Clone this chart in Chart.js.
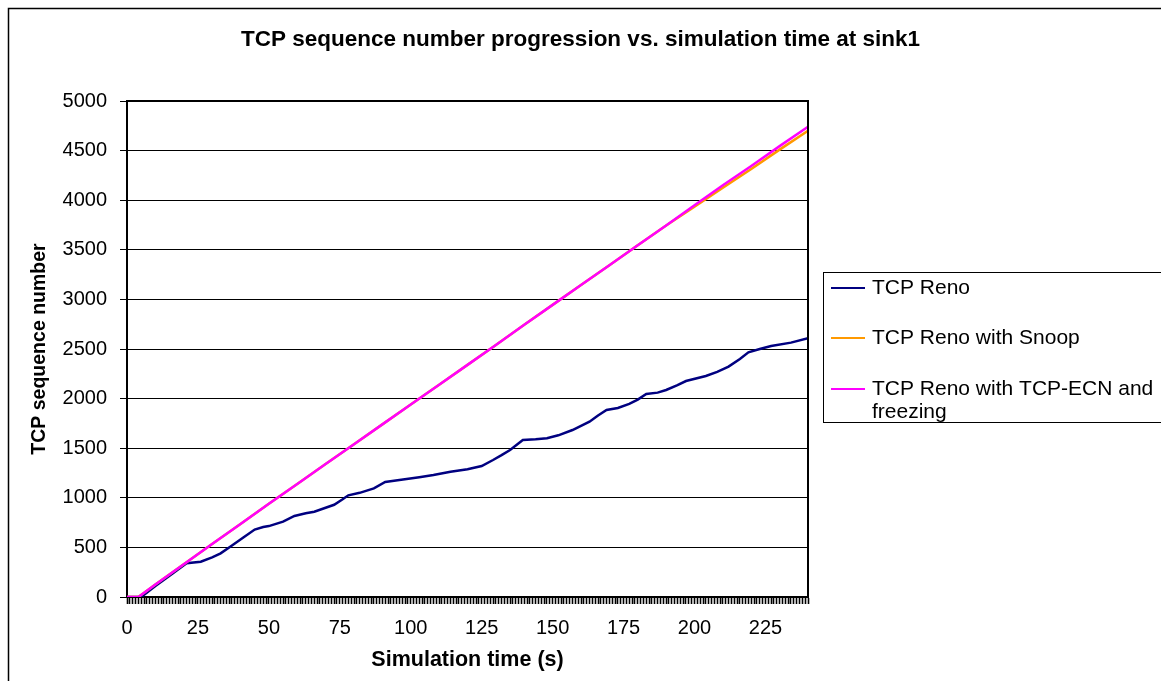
<!DOCTYPE html>
<html>
<head>
<meta charset="utf-8">
<title>TCP sequence number progression</title>
<script src="https://cdn.jsdelivr.net/npm/chart.js@4.4.1/dist/chart.umd.min.js"></script>
<style>
  html, body { margin:0; padding:0; background:#fff; }
  #wrap { width:1161px; height:681px; position:relative; }
</style>
</head>
<body>
<div id="wrap"><canvas id="chart-seq"></canvas></div>
<script>
/* ============ DADOS ============ */
var tempoReno = [0, 5, 10, 15, 21, 26, 30, 33, 37, 41, 45, 48, 50, 55, 59, 63, 66, 70, 73, 76, 78, 82, 87,
  91, 96, 103, 108, 114, 120, 125, 129, 132, 135, 139.5, 144, 148, 152, 157, 163, 166, 169, 173, 177, 180,
  183, 187, 190, 194, 197, 204, 208, 212, 216, 219, 223, 227, 234, 240];
var seqReno = [0, 0, 110, 215, 340, 356, 400, 440, 520, 600, 680, 705, 715, 760, 817, 845, 860, 900, 930,
  985, 1025, 1050, 1095, 1160, 1179, 1207, 1230, 1262, 1287, 1320, 1381, 1430, 1482, 1583, 1590, 1600, 1630,
  1683, 1767, 1830, 1885, 1905, 1946, 1990, 2046, 2060, 2087, 2135, 2177, 2228, 2270, 2322, 2400, 2467,
  2500, 2530, 2564, 2608];

var tempoLinha = [0, 4, 10, 20, 30, 40, 50, 60, 70, 80, 90, 100, 110, 120, 130, 140, 150, 160, 170, 180,
  190, 200, 210, 220, 230, 240];
var seqSnoop = [0, 0, 125, 330, 535, 735, 940, 1140, 1340, 1540, 1740, 1940, 2140, 2340, 2540, 2745, 2945,
  3145, 3345, 3545, 3745, 3935, 4125, 4315, 4510, 4700];
var seqEcn = [0, 0, 125, 330, 535, 735, 940, 1140, 1340, 1540, 1740, 1940, 2140, 2340, 2540, 2745, 2945,
  3145, 3345, 3545, 3745, 3950, 4150, 4345, 4545, 4740];

var series = ['TCP Reno', 'TCP Reno with Snoop', 'TCP Reno with TCP-ECN and freezing'];
var cores = ['#000080', '#FF9900', '#FF00FF'];
var yTicks = [0, 500, 1000, 1500, 2000, 2500, 3000, 3500, 4000, 4500, 5000];
var xLabelStep = 25;
var xMax = 240;

var FONTE = '"Liberation Sans", Arial, sans-serif';

function pontos(xs, ys) {
  return xs.map(function(x, i) { return { x: x, y: ys[i] }; });
}

/* ============ LEGENDA E MOLDURA ============ */
var molduraPlugin = {
  id: 'moldura',
  afterDraw: function(chart) {
    var ctx = chart.ctx, a = chart.chartArea;
    ctx.save();

    // moldura externa
    ctx.strokeStyle = '#000';
    ctx.lineWidth = 1.5;
    ctx.beginPath();
    ctx.moveTo(8.5, 690); ctx.lineTo(8.5, 8.5); ctx.lineTo(1170, 8.5);
    ctx.stroke();

    // borda da área do gráfico (topo e direita)
    ctx.lineWidth = 2;
    ctx.beginPath();
    ctx.moveTo(a.left, a.top); ctx.lineTo(a.right, a.top); ctx.lineTo(a.right, a.bottom);
    ctx.stroke();

    // legenda
    ctx.lineWidth = 1;
    ctx.strokeRect(823.5, 272.5, 360, 150);
    ctx.font = '21px ' + FONTE;
    ctx.fillStyle = '#000';
    ctx.textBaseline = 'middle';
    ctx.textAlign = 'left';
    var ys = [288, 338, 389];
    var linhas = [['TCP Reno'], ['TCP Reno with Snoop'], ['TCP Reno with TCP-ECN and', 'freezing']];
    chart.data.datasets.forEach(function(ds, i) {
      ctx.strokeStyle = ds.borderColor;
      ctx.lineWidth = 2;
      ctx.beginPath();
      ctx.moveTo(831, ys[i]); ctx.lineTo(865, ys[i]);
      ctx.stroke();
      linhas[i].forEach(function(t, j) {
        ctx.fillText(t, 872, ys[i] + j * 23);
      });
    });
    ctx.restore();
  }
};

/* ============ GRÁFICO ============ */
Chart.defaults.color = '#000';
Chart.defaults.font.family = FONTE;

new Chart(document.getElementById('chart-seq'), {
  type: 'line',
  data: {
    datasets: [
      { label: series[0], data: pontos(tempoReno, seqReno), borderColor: cores[0], order: 3 },
      { label: series[1], data: pontos(tempoLinha, seqSnoop), borderColor: cores[1], order: 2 },
      { label: series[2], data: pontos(tempoLinha, seqEcn), borderColor: cores[2], order: 1 }
    ]
  },
  options: {
    responsive: true,
    maintainAspectRatio: false,
    animation: false,
    layout: { padding: 0 },
    elements: {
      line: { borderWidth: 2.5, tension: 0, fill: false },
      point: { radius: 0, hoverRadius: 0 }
    },
    plugins: {
      legend: { display: false },
      tooltip: { enabled: false },
      title: {
        display: true,
        text: 'TCP sequence number progression vs. simulation time at sink1',
        font: { size: 22.5, weight: 'bold' },
        color: '#000',
        padding: { top: 26.5, bottom: 47.5 }
      }
    },
    scales: {
      x: {
        type: 'linear',
        min: 0,
        max: xMax,
        afterFit: function(s) { s.height = 84; },
        ticks: {
          stepSize: 1,
          autoSkip: false,
          maxRotation: 0,
          padding: 12,
          font: { size: 20 },
          callback: function(v) { return (v % xLabelStep === 0 && v < xMax) ? String(v) : ''; }
        },
        grid: { drawOnChartArea: false, tickLength: 7, tickColor: '#000', tickWidth: 1.6 },
        border: { color: '#000', width: 2 },
        title: {
          display: true,
          text: 'Simulation time (s)',
          font: { size: 21.5, weight: 'bold' },
          padding: { top: 0, bottom: 8 }
        }
      },
      y: {
        min: 0,
        max: 5000,
        afterFit: function(s) { s.width = 127; },
        afterBuildTicks: function(s) { s.ticks = yTicks.map(function(v) { return { value: v }; }); },
        ticks: {
          padding: 13,
          font: { size: 20 },
          callback: function(v) { return String(v); }
        },
        grid: { color: '#000', lineWidth: 1, tickLength: 7, tickColor: '#000' },
        border: { color: '#000', width: 2 },
        title: {
          display: true,
          text: 'TCP sequence number',
          font: { size: 19.5, weight: 'bold' },
          padding: { top: 28, bottom: 0 }
        }
      },
      // espaço à direita reservado para a legenda
      espaco: {
        type: 'linear',
        position: 'right',
        display: true,
        afterFit: function(s) { s.width = 353; },
        ticks: { display: false },
        grid: { display: false },
        border: { display: false }
      }
    }
  },
  plugins: [molduraPlugin]
});
</script>
</body>
</html>
